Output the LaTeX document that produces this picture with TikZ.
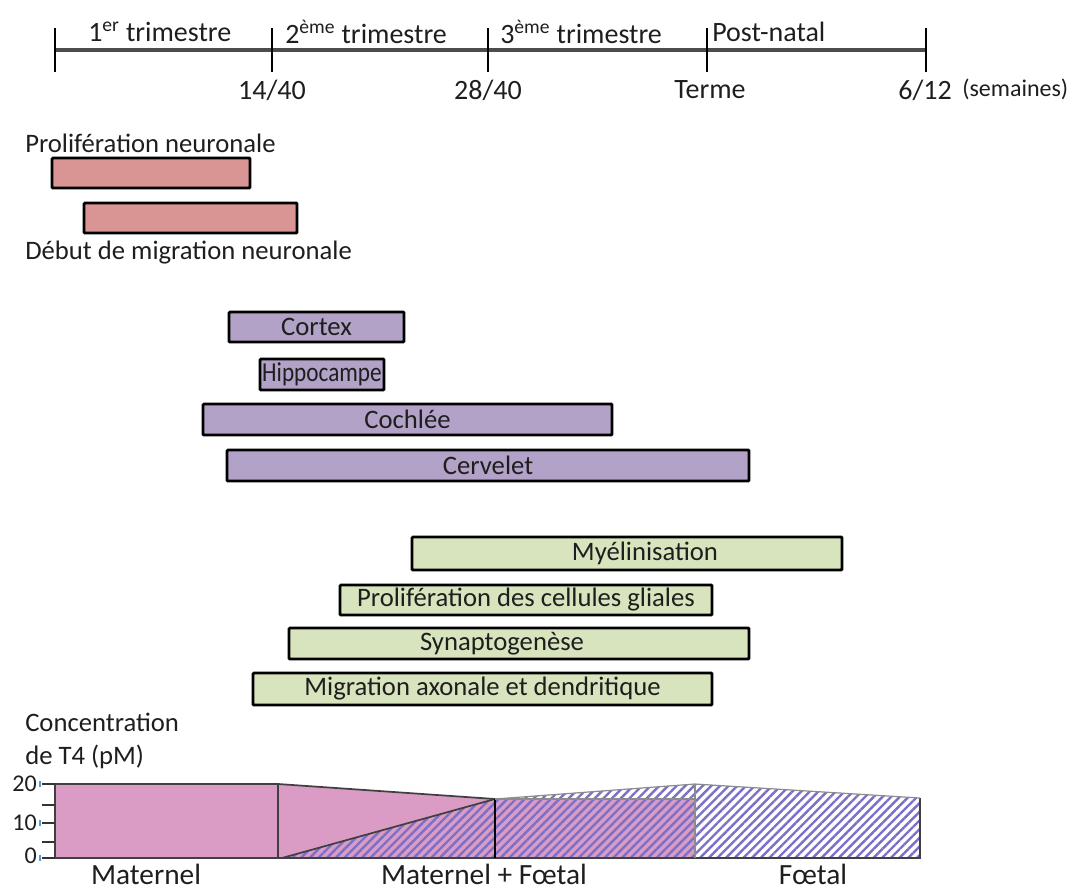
\documentclass[tikz,border=0pt]{standalone}
\usepackage{fontspec}
\setmainfont{Carlito}
\newfontfamily\narrowfont[FakeStretch=0.85]{Carlito}
\usetikzlibrary{patterns.meta,calc}
\definecolor{pinkbar}{HTML}{D99594}
\definecolor{purplebar}{HTML}{B3A2C7}
\definecolor{greenbar}{HTML}{D7E4BD}
\definecolor{tfour}{HTML}{DA9CC5}
\definecolor{hatchc}{HTML}{7B70C8}
\definecolor{txt}{HTML}{1E1E1E}
\definecolor{axblue}{HTML}{5B9BD5}
\begin{document}
\begin{tikzpicture}[x=0.75pt,y=-0.75pt,
  every node/.style={text=txt, font=\fontsize{20}{24}\selectfont, inner sep=0pt},
  bar/.style n args={3}{draw=black, line width=2.2pt, rounded corners=0.8pt, fill=#1,
    minimum width={#2*0.75pt}, minimum height={#3*0.75pt}},
  bigfont/.style={font=\fontsize{22}{26}\selectfont},
  tlabel/.style={font=\fontsize{21}{25}\selectfont},
  outl/.style={draw=black!75, line width=1.3pt},
  faint/.style={draw=black!45, line width=0.9pt},
  tick/.style={draw=black, line width=1.6pt}]
\useasboundingbox (0,0) rectangle (1082,890);

% ---------- timeline ----------
\coordinate (t0) at (55,50);
\coordinate (t1) at (272,50);
\coordinate (t2) at (488,50);
\coordinate (t3) at (707,50);
\coordinate (t4) at (926,50);
\draw[black!70, line width=2.6pt] (t0) -- (t4);
\foreach \t in {t0,t1,t2,t3,t4}
  \draw[tick] ($(\t)+(0,-22)$) -- ($(\t)+(0,22)$);
\node[tlabel, anchor=west] (l1) at (88,32) {1\textsuperscript{er} trimestre};
\node[tlabel, anchor=west] (l2) at (285,32) {2\textsuperscript{ème} trimestre};
\node[tlabel, anchor=west] (l3) at (500,32) {3\textsuperscript{ème} trimestre};
\node[tlabel, anchor=west] (l4) at (712,32) {Post-natal};
\node[tlabel] (d1) at (272,90) {14/40};
\node[tlabel] (d2) at (488,90) {28/40};
\node[tlabel] (d3) at (710,90) {Terme};
\node[tlabel] (d4) at (925,90) {6/12};
\node[anchor=west, font=\fontsize{18}{22}\selectfont] (sem) at (962,89) {(semaines)};

% ---------- neuronal ----------
\node[anchor=west] (prolab) at (25,143) {Prolifération neuronale};
\node[bar={pinkbar}{198}{30}] (p1) at (151,173) {};
\node[bar={pinkbar}{213}{30}] (p2) at (190.5,218) {};
\node[anchor=west] (miglab) at (25,253) {Début de migration neuronale};

% ---------- regions ----------
\node[bar={purplebar}{175}{30}] (cortex) at (316.5,327) {Cortex};
\node[bar={purplebar}{124}{31}, font=\narrowfont\fontsize{20.5}{24}\selectfont] (hippo) at (322,374.5) {Hippocampe};
\node[bar={purplebar}{409}{31}] (coch) at (407.5,419.5) {Cochlée};
\node[bar={purplebar}{522}{31}] (cerv) at (488,465.5) {Cervelet};

% ---------- processes ----------
\node[bar={greenbar}{430}{33}] (myel) at (627,553.5) {};
\node (myeltxt) at (645,553.5) {Myélinisation};
\node[bar={greenbar}{372}{30}] (glia) at (526,600) {Prolifération des cellules gliales};
\node[bar={greenbar}{460}{31}] (syn) at (519,643.5) {};
\node (syntxt) at (502,643.5) {Synaptogenèse};
\node[bar={greenbar}{459}{32}] (axo) at (482.5,689) {Migration axonale et dendritique};

% ---------- T4 chart ----------
\node[anchor=west] (conc1) at (25,722) {Concentration};
\node[anchor=west] (conc2) at (25,757) {de T4 (pM)};

\fill[tfour] (55,784) -- (278,784) -- (495,799) -- (695,799) -- (695,858) -- (55,858) -- cycle;
\fill[pattern={Lines[angle=45,distance=4.6pt,line width=1.8pt]}, pattern color=hatchc]
  (282,858) -- (495,799) -- (695,784) -- (920,798) -- (920,858) -- cycle;

\draw[outl] (55,784) -- (278,784) -- (495,799);
\draw[outl] (55,784) -- (55,858) -- (920,858) -- (920,798);
\draw[outl] (278,784) -- (278,858);
\draw[outl] (282,858) -- (495,799);
\draw[black, line width=1.8pt] (495,799) -- (495,858);
\draw[faint] (495,799) -- (695,799);
\draw[faint] (695,784) -- (695,858);
\draw[faint] (495,799) -- (695,784) -- (920,798);

\foreach \y in {784,805,823,842,858}
  \draw[black!80, line width=2.2pt] (42,\y) -- (55,\y);
\foreach \y in {784,823,858}
  \draw[axblue, line width=1pt] (40,\y-3) -- (40,\y+3);

\node[anchor=east, font=\fontsize{18}{22}\selectfont] (y20) at (37,784) {20};
\node[anchor=east, font=\fontsize{18}{22}\selectfont] (y10) at (37,823) {10};
\node[anchor=east, font=\fontsize{18}{22}\selectfont] (y0) at (37,856) {0};

\node[bigfont] (mat) at (146,874) {Maternel};
\node[bigfont] (matf) at (484,874) {Maternel + Fœtal};
\node[bigfont] (foet) at (813,874) {Fœtal};
\end{tikzpicture}
\end{document}
